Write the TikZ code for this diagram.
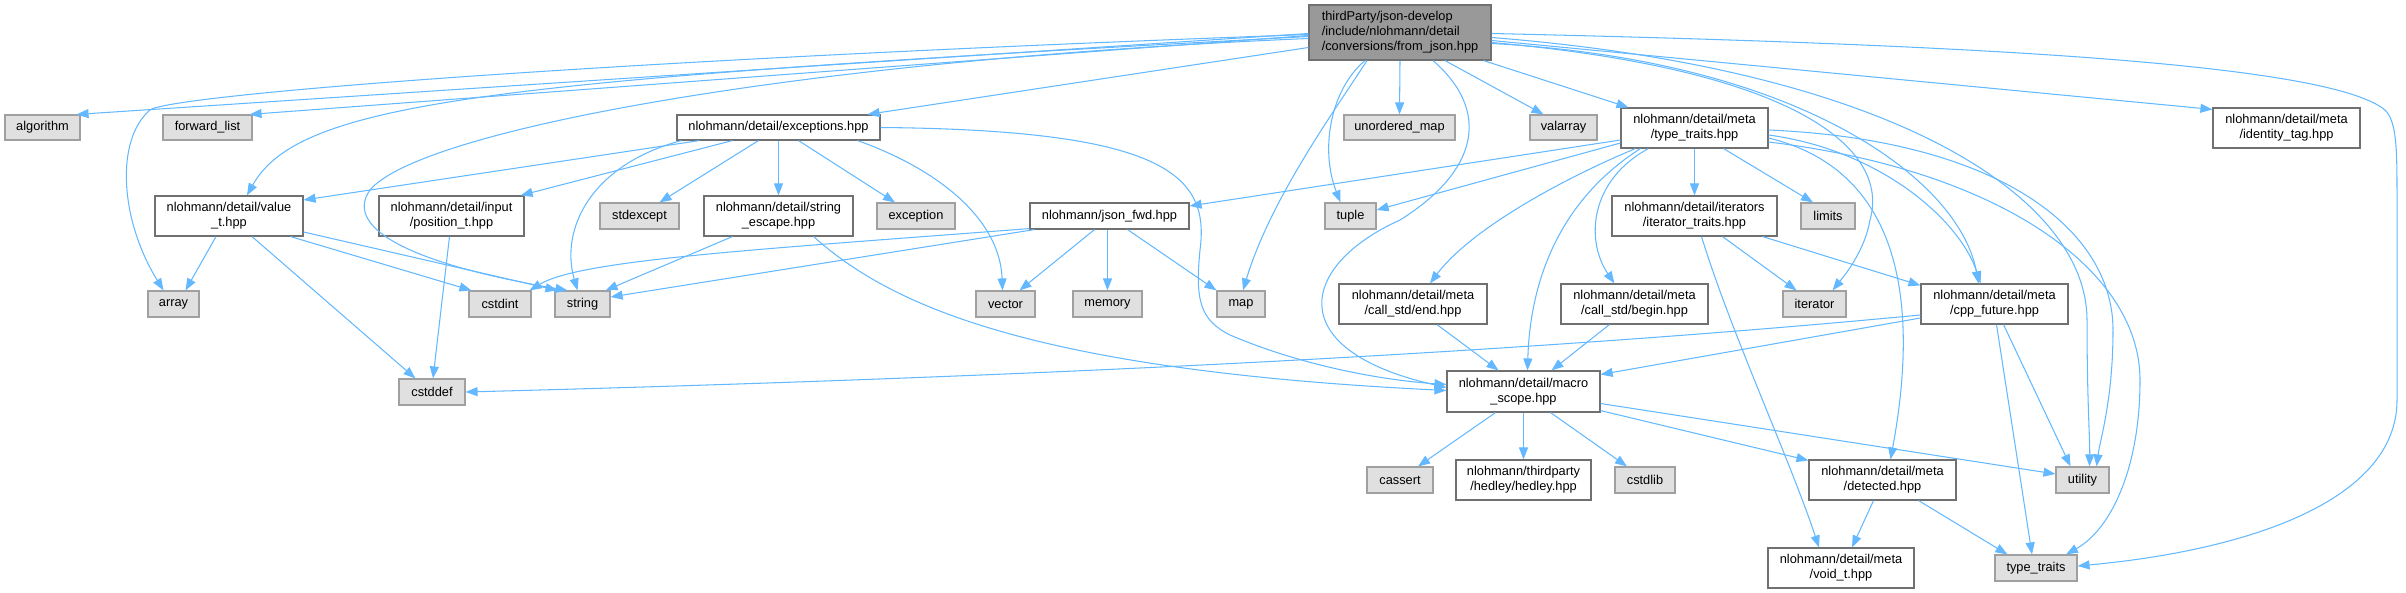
\documentclass[tikz,border=0pt]{standalone}
\usepackage{fontspec}
\setmainfont{Liberation Sans}
\usetikzlibrary{arrows.meta,calc}
\definecolor{edgec}{HTML}{63B8FF}
\definecolor{bordA}{HTML}{707070}
\definecolor{bordB}{HTML}{A0A0A0}
\definecolor{fillB}{HTML}{E0E0E0}
\definecolor{fillM}{HTML}{999999}
\newcommand{\nfont}{\fontsize{12.8}{15}\selectfont}
\tikzset{
  box/.style={draw=bordA, fill=white, line width=1.15pt, rectangle, inner sep=0pt, align=center, font=\nfont, text=black},
  sysbox/.style={box, draw=bordB, fill=fillB},
  mainbox/.style={box, draw=bordA, fill=fillM, align=left},
  sz/.style 2 args={minimum width=#1pt, minimum height=#2pt},
  e/.style={draw=edgec, line width=1.05pt, -{Triangle[length=12pt,width=9pt]}},
}
\begin{document}
\begin{tikzpicture}[x=1pt,y=-1pt]
\useasboundingbox (0,0) rectangle (2406,593);
% nodes
\node[mainbox, sz={182}{55}] (main) at (1400,32.5) {thirdParty/json-develop\\/include/nlohmann/detail\\/conversions/from\_json.hpp};
\node[sysbox, sz={75}{25}] (algorithm) at (42.5,127.5) {algorithm};
\node[sysbox, sz={89}{25}] (forwardlist) at (207.5,127.5) {forward\_list};
\node[box, sz={203}{25}] (exceptions) at (778.5,127.5) {nlohmann/detail/exceptions.hpp};
\node[sysbox, sz={111}{25}] (unorderedmap) at (1399.5,127.5) {unordered\_map};
\node[sysbox, sz={67}{25}] (valarray) at (1563.5,127.5) {valarray};
\node[box, sz={147}{40}] (ttmeta) at (1694.5,128) {nlohmann/detail/meta\\/type\_traits.hpp};
\node[box, sz={147}{40}] (identity) at (2286.5,128) {nlohmann/detail/meta\\/identity\_tag.hpp};
\node[box, sz={148}{40}] (valuet) at (229,216) {nlohmann/detail/value\\\_t.hpp};
\node[box, sz={145}{40}] (position) at (451.5,216) {nlohmann/detail/input\\/position\_t.hpp};
\node[sysbox, sz={79}{26}] (stdexcept) at (639.5,216) {stdexcept};
\node[box, sz={149}{40}] (strescape) at (778.5,216) {nlohmann/detail/string\\\_escape.hpp};
\node[sysbox, sz={78}{26}] (exception) at (916,216) {exception};
\node[box, sz={159}{26}] (jsonfwd) at (1109.5,216) {nlohmann/json\_fwd.hpp};
\node[sysbox, sz={51}{26}] (tuple) at (1350.5,216) {tuple};
\node[box, sz={165}{40}] (itertraits) at (1694.5,216) {nlohmann/detail/iterators\\/iterator\_traits.hpp};
\node[sysbox, sz={54}{26}] (limits) at (1828,216) {limits};
\node[sysbox, sz={51}{26}] (array) at (173.5,304) {array};
\node[sysbox, sz={62}{26}] (cstdint) at (500,304) {cstdint};
\node[sysbox, sz={55}{26}] (string) at (582.5,304) {string};
\node[sysbox, sz={59}{26}] (vector) at (1005.5,304) {vector};
\node[sysbox, sz={69}{26}] (memory) at (1107.5,304) {memory};
\node[sysbox, sz={48}{26}] (map) at (1241,304) {map};
\node[box, sz={148}{40}] (callend) at (1413,304) {nlohmann/detail/meta\\/call\_std/end.hpp};
\node[box, sz={147}{40}] (callbegin) at (1634.5,304) {nlohmann/detail/meta\\/call\_std/begin.hpp};
\node[sysbox, sz={63}{26}] (iterator) at (1814.5,304) {iterator};
\node[box, sz={147}{40}] (cppfuture) at (1994.5,304) {nlohmann/detail/meta\\/cpp\_future.hpp};
\node[sysbox, sz={66}{26}] (cstddef) at (432,392) {cstddef};
\node[box, sz={153}{41}] (macro) at (1523.5,391.5) {nlohmann/detail/macro\\\_scope.hpp};
\node[sysbox, sz={66}{26}] (cassert) at (1400,480) {cassert};
\node[box, sz={135}{40}] (hedley) at (1523.5,480) {nlohmann/thirdparty\\/hedley/hedley.hpp};
\node[sysbox, sz={60}{26}] (cstdlib) at (1645,480) {cstdlib};
\node[box, sz={147}{40}] (detected) at (1882.5,480) {nlohmann/detail/meta\\/detected.hpp};
\node[sysbox, sz={53}{26}] (utility) at (2082.5,480) {utility};
\node[box, sz={146}{40}] (voidt) at (1841,568) {nlohmann/detail/meta\\/void\_t.hpp};
\node[sysbox, sz={82}{26}] (typetraits) at (2036,568) {type\_traits};
% main edges
\draw[e] ($(main.west)+(0,1)$) -- ($(algorithm.north east)+(-4,0)$);
\draw[e] ($(main.west)+(0,2)$) .. controls (600,60) and (170,95) .. (150,110) .. controls (115,140) and (120,220) .. ($(array.north)+(-10,0)$);
\draw[e] ($(main.west)+(0,3)$) -- ($(forwardlist.north east)+(-3,0)$);
\draw[e] ($(main.west)+(0,4)$) .. controls (500,80) and (300,100) .. ($(valuet.north)+(18,0)$);
\draw[e] ($(main.west)+(0,6)$) .. controls (800,60) and (420,130) .. (370,190) .. controls (345,225) and (400,262) .. ($(string.north)+(-15,0)$);
\draw[e] ($(main.west)+(0,15)$) -- ($(exceptions.north east)+(-13,0)$);
\draw[e] ($(main.south)+(-35,0)$) .. controls (1330,90) and (1320,150) .. ($(tuple.north)+(-10,0)$);
\draw[e] ($(main.south)+(-33,0)$) .. controls (1335,110) and (1270,200) .. ($(map.north)+(2,0)$);
\draw[e] (main.south) -- (unorderedmap.north);
\draw[e] ($(main.south)+(33,0)$) .. controls (1490,110) and (1480,170) .. (1400,220) .. controls (1300,265) and (1280,350) .. ($(macro.west)+(0,-4)$);
\draw[e] ($(main.south)+(45,0)$) -- ($(valarray.north)+(-20,0)$);
\draw[e] ($(main.south east)+(-8,0)$) -- ($(ttmeta.north west)+(8,0)$);
\draw[e] ($(main.east)+(0,8)$) -- ($(identity.north west)+(0,2)$);
\draw[e] ($(main.east)+(0,1)$) .. controls (2000,45) and (2330,65) .. (2385,110) .. controls (2397,122) and (2397,150) .. (2397,200) -- (2397,400) .. controls (2397,500) and (2250,550) .. ($(typetraits.east)+(0,-2)$);
\draw[e] ($(main.east)+(0,5)$) .. controls (1900,70) and (2087,200) .. (2087,320) .. controls (2087,400) and (2090,440) .. ($(utility.north)+(7,0)$);
\draw[e] ($(main.east)+(0,10)$) .. controls (1800,70) and (1890,150) .. (1870,220) .. controls (1865,250) and (1845,275) .. ($(iterator.north)+(18,0)$);
\draw[e] ($(main.east)+(0,11)$) .. controls (1800,60) and (1960,180) .. ($(cppfuture.north)+(-16,0)$);
% type_traits.hpp (meta) edges
\draw[e] ($(ttmeta.west)+(0,12)$) -- ($(jsonfwd.east)+(0,-10)$);
\draw[e] ($(ttmeta.west)+(0,15)$) -- ($(tuple.east)+(0,-6)$);
\draw[e] ($(ttmeta.south west)+(15,0)$) .. controls (1560,180) and (1470,230) .. ($(callend.north)+(17,0)$);
\draw[e] ($(ttmeta.south west)+(20,0)$) .. controls (1560,200) and (1530,280) .. ($(macro.north)+(4,0)$);
\draw[e] ($(ttmeta.south west)+(28,0)$) .. controls (1590,180) and (1585,240) .. ($(callbegin.north west)+(54,0)$);
\draw[e] (ttmeta.south) -- (itertraits.north);
\draw[e] ($(ttmeta.south)+(29,0)$) -- ($(limits.north)+(-15,0)$);
\draw[e] ($(ttmeta.east)+(0,7)$) .. controls (1880,150) and (1960,220) .. ($(cppfuture.north)+(-14,0)$);
\draw[e] ($(ttmeta.east)+(0,10)$) .. controls (1900,170) and (1920,300) .. ($(detected.north)+(8,0)$);
\draw[e] ($(ttmeta.east)+(0,2)$) .. controls (2000,140) and (2113,230) .. (2113,330) .. controls (2113,400) and (2100,440) .. ($(utility.north)+(14,0)$);
\draw[e] ($(ttmeta.east)+(0,14)$) .. controls (2000,170) and (2140,270) .. (2140,380) .. controls (2140,470) and (2110,530) .. ($(typetraits.north)+(30,0)$);
% exceptions edges
\draw[e] ($(exceptions.south west)+(23,0)$) -- ($(valuet.east)+(0,-16)$);
\draw[e] ($(exceptions.south west)+(56,0)$) -- ($(position.north east)+(-4,0)$);
\draw[e] ($(exceptions.south)+(-20,0)$) -- ($(stdexcept.north)+(20,0)$);
\draw[e] (exceptions.south) -- (strescape.north);
\draw[e] ($(exceptions.south)+(20,0)$) -- ($(exception.north)+(-21,0)$);
\draw[e] ($(exceptions.south east)+(-23,0)$) .. controls (940,170) and (1000,220) .. ($(vector.north)+(-3,0)$);
\draw[e] ($(exceptions.south west)+(5,0)$) .. controls (590,165) and (560,230) .. ($(string.north)+(-5,0)$);
\draw[e] (exceptions.east) .. controls (1165,130) and (1210,175) .. (1200,250) .. controls (1195,300) and (1200,320) .. (1230,335) .. controls (1300,365) and (1380,380) .. ($(macro.west)+(0,-7)$);
% value_t edges
\draw[e] ($(valuet.south)+(-13,0)$) -- ($(array.north)+(12,0)$);
\draw[e] ($(valuet.south)+(23,0)$) -- ($(cstddef.north west)+(17,0)$);
\draw[e] ($(valuet.south east)+(-13,0)$) -- ($(cstdint.north west)+(3,0)$);
\draw[e] ($(valuet.east)+(0,16)$) -- ($(string.north west)+(3,0)$);
% position_t
\draw[e] ($(position.south)+(-2,0)$) -- ($(cstddef.north)+(1,0)$);
% string_escape
\draw[e] ($(strescape.south west)+(29,0)$) -- ($(string.north east)+(-5,0)$);
\draw[e] ($(strescape.south east)+(-40,0)$) .. controls (890,305) and (1030,370) .. ($(macro.west)+(0,-1)$);
% json_fwd
\draw[e] ($(jsonfwd.south west)+(0,-1)$) .. controls (750,250) and (580,260) .. ($(cstdint.north east)+(-2,0)$);
\draw[e] ($(jsonfwd.south west)+(5,0)$) -- ($(string.east)+(0,-7)$);
\draw[e] ($(jsonfwd.south)+(-15,0)$) -- ($(vector.north)+(14,0)$);
\draw[e] ($(jsonfwd.south)+(-2,0)$) -- (memory.north);
\draw[e] ($(jsonfwd.south)+(18,0)$) -- (map.north west);
% call_std
\draw[e] ($(callend.south)+(24,0)$) -- ($(macro.north)+(-25,0)$);
\draw[e] ($(callbegin.south west)+(49,0)$) -- ($(macro.north)+(28,0)$);
% iterator_traits
\draw[e] ($(itertraits.south)+(28,0)$) -- ($(iterator.north)+(-18,0)$);
\draw[e] ($(itertraits.south east)+(-15,0)$) -- ($(cppfuture.north west)+(0,2)$);
\draw[e] ($(itertraits.south)+(7,0)$) .. controls (1730,330) and (1790,460) .. ($(voidt.north)+(-22,0)$);
% cpp_future
\draw[e] ($(cppfuture.west)+(0,14)$) -- ($(macro.east)+(0,-17)$);
\draw[e] ($(cppfuture.west)+(0,11)$) .. controls (1500,355) and (1000,378) .. (cstddef.east);
\draw[e] ($(cppfuture.south)+(9,0)$) -- ($(utility.north)+(-12,0)$);
\draw[e] ($(cppfuture.south)+(2,0)$) -- ($(typetraits.north)+(-4,0)$);
% macro_scope
\draw[e] ($(macro.south)+(-28,0)$) -- ($(cassert.north)+(18,0)$);
\draw[e] (macro.south) -- (hedley.north);
\draw[e] ($(macro.south)+(27,0)$) -- ($(cstdlib.north)+(-18,0)$);
\draw[e] ($(macro.south east)+(0,-2)$) -- ($(detected.north west)+(0,1)$);
\draw[e] ($(macro.east)+(0,12)$) -- ($(utility.west)+(0,-6)$);
% detected
\draw[e] ($(detected.south)+(-9,0)$) -- ($(voidt.north)+(11,0)$);
\draw[e] ($(detected.south east)+(-38,0)$) -- ($(typetraits.north west)+(13,0)$);
\end{tikzpicture}
\end{document}
